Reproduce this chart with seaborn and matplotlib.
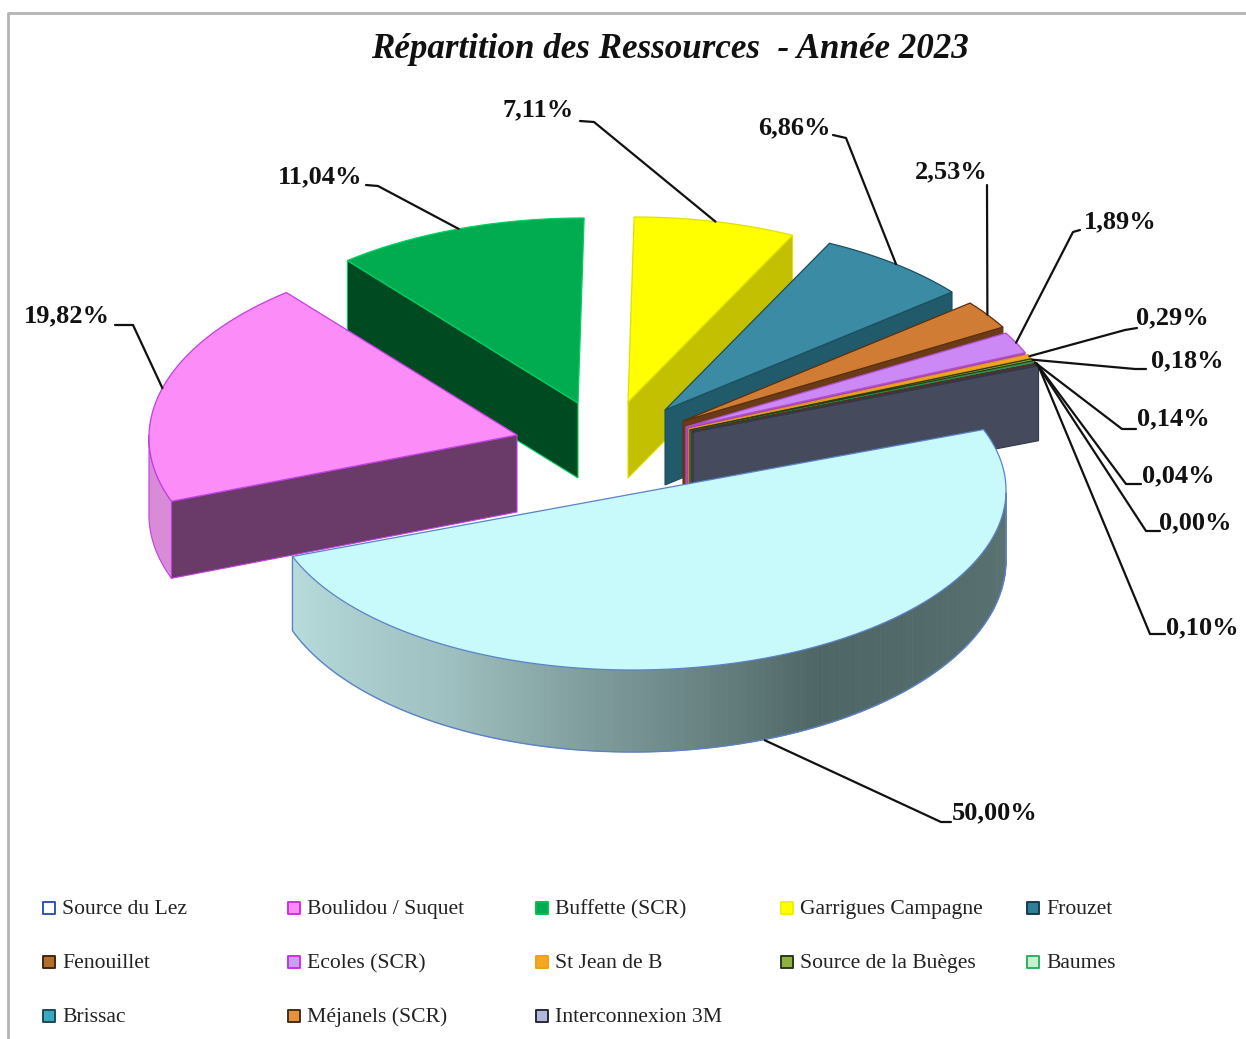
import numpy as np
import pandas as pd
import matplotlib.pyplot as plt
import matplotlib.colors as mcolors
import seaborn as sns

names = ["Source du Lez", "Boulidou / Suquet", "Buffette (SCR)", "Garrigues Campagne", "Frouzet",
         "Fenouillet", "Ecoles (SCR)", "St Jean de B", "Source de la Buèges", "Baumes",
         "Brissac", "Méjanels (SCR)", "Interconnexion 3M"]
values = [50.00, 19.82, 11.04, 7.11, 6.86, 2.53, 1.89, 0.29, 0.18, 0.14, 0.04, 0.00, 0.10]
labels = ["50,00%", "19,82%", "11,04%", "7,11%", "6,86%", "2,53%", "1,89%",
          "0,29%", "0,18%", "0,14%", "0,04%", "0,00%", "0,10%"]

top_colors = ["#c8f9fb", "#fb8cf8", "#00ac4f", "#ffff00", "#3b8ba5", "#d07c35", "#cc88f5",
              "#f5a623", "#90b040", "#4fa868", "#3aa0b8", "#e08a3c", "#5a6078"]
wall_colors = ["#567070", "#6a3a68", "#004a22", "#c2c000", "#215a6b", "#6b3b17", "#b040a8",
               "#8f5b12", "#1f4a20", "#1f5a30", "#1f5a6b", "#6b3b17", "#454a5c"]
edge_colors = ["#5b82c8", "#c040e0", "#00d060", "#e0e000", "#1b4f60", "#5a3010", "#b050d0",
               "#e09a20", "#2a3a10", "#2f8a50", "#1b4f60", "#5a3010", "#33384a"]
swatch_fill = ["#ffffff", "#fb8cf8", "#00ac4f", "#ffff00", "#2f7f98", "#b0702c", "#c8a0f0",
               "#f5a623", "#90b040", "#c8f0d0", "#3aa8c0", "#e8903c", "#b0b8e0"]
swatch_edge = ["#2f55b8", "#d030e0", "#00c050", "#f0f000", "#1a3a48", "#402810", "#d030e0",
               "#f0a010", "#2a3a20", "#30b060", "#1a4a58", "#403020", "#2a2a38"]

# layout of the drawing, in image pixels
CX, CY = 640, 493
A = 368
B = [177] + [185] * 12
SHEAR = 5.5
START = 21
offsets = [(-2, 0), (-123, -58), (-62, -90), (-12, -91), (25, -83), (43, -72), (46, -66),
           (49, -64), (50, -63), (51, -62), (52, -62), (52, -62), (53, -61)]
depths = [82, 77, 75, 76, 75, 75, 75, 75, 75, 75, 75, 75, 75]
draw_order = [2, 3, 4, 5, 6, 7, 8, 9, 10, 11, 12, 1, 0]

# label text position and the leader's elbow
label_pos = [(995, 813), (67, 316), (320, 177), (538, 110), (794, 128), (951, 172), (1120, 222),
             (1172, 318), (1187, 361), (1173, 419), (1178, 476), (1195, 523), (1202, 628)]
elbows = [[(951, 822), (941, 822)], [(115, 325), (133, 325)], [(366, 185), (378, 186)],
          [(580, 121), (594, 122)], [(833, 135), (846, 138)], [(987, 185)], [(1080, 230), (1073, 232)],
          [(1137, 328), (1125, 330)], [(1146, 369), (1135, 369)], [(1136, 429), (1122, 429)],
          [(1141, 484), (1126, 484)], [(1160, 531), (1146, 531)], [(1165, 634), (1150, 634)]]

legend_x = [44, 289, 537, 782, 1028]
legend_y = [908, 962, 1016]

sns.set_theme(style="white")
plt.rcParams["font.family"] = ["Liberation Serif", "DejaVu Serif"]

fig = plt.figure(figsize=(12.46, 10.39), dpi=100)
ax = fig.add_axes([0, 0, 1, 1])
ax.set_xlim(0, 1246)
ax.set_ylim(1039, 0)
ax.axis("off")

# outer frame of the original chart, cropped on the right and bottom
ax.plot([8, 8, 1246], [1039, 13, 13], color="#b4b4b4", lw=2)

spans = np.array(values) * 3.6
t_start = START - np.concatenate([[0], np.cumsum(spans)[:-1]])
t_end = t_start - spans


def arc(i, t0, t1, n=120):
    t = np.radians(np.linspace(t0, t1, n))
    x = CX + offsets[i][0] + A * np.cos(t) + SHEAR * np.sin(t)
    y = CY + offsets[i][1] - B[i] * np.sin(t)
    return x, y


def rim_depth(t):
    # the big slice looks thicker at the front than at its two ends
    return 70 + 12 * np.abs(np.sin(np.radians(t)))


def shade(t):
    # Source du Lez rim goes from pale on the left to dark towards the right
    stops = [(-159, "#b8dcdc"), (-120, "#9fc0c0"), (-60, "#4f6666"), (0, "#5a7272")]
    ts = [s[0] for s in stops]
    rgb = np.array([mcolors.to_rgb(s[1]) for s in stops])
    return [np.interp(t, ts, rgb[:, k]) for k in range(3)]


for i in draw_order:
    cx, cy = CX + offsets[i][0], CY + offsets[i][1]
    d = depths[i]
    t0, t1 = t_start[i], t_end[i]
    if i != 0:
        # radial wall that faces the viewer
        edge_t = t0 if i in (1, 2) else t1
        ex, ey = arc(i, edge_t, edge_t, 1)
        ax.fill([cx, ex[0], ex[0], cx], [cy, ey[0], ey[0] + d, cy + d],
                fc=wall_colors[i], ec=edge_colors[i], lw=0.8)
    # outer rim, only the part below the widest line can be seen
    if i == 0:
        ts = np.linspace(t1, 0, 160)
        for a0, a1 in zip(ts[:-1], ts[1:]):
            x, y = arc(i, a0, a1, 4)
            dd = rim_depth(np.linspace(a0, a1, 4))
            c = shade((a0 + a1) / 2)
            ax.fill(np.r_[x, x[::-1]], np.r_[y, (y + dd)[::-1]], fc=c, ec=c, lw=0.6)
        x, y = arc(i, t1, 0)
        dd = rim_depth(np.linspace(t1, 0, 120))
        ax.plot(np.r_[x[0], x, x[-1]], np.r_[y[0], y + dd, y[-1]], color=edge_colors[i], lw=1)
    if i == 1:
        x, y = arc(i, -180, t0)
        ax.fill(np.r_[x, x[::-1]], np.r_[y, y[::-1] + d], fc="#d98bd8", ec=edge_colors[i], lw=0.8)
    # top face
    x, y = arc(i, t0, t1)
    ax.fill(np.r_[cx, x], np.r_[cy, y], fc=top_colors[i], ec=edge_colors[i], lw=0.9)

# leaders and value labels
for i in range(len(values)):
    tm = (t_start[i] + t_end[i]) / 2
    x, y = arc(i, tm, tm, 1)
    py = y[0] + depths[i] if i == 0 else y[0]
    pts = elbows[i]
    xs = [p[0] for p in pts] + [x[0]]
    ys = [p[1] for p in pts] + [py]
    ax.plot(xs, ys, color="#111111", lw=1.6, solid_capstyle="round")
    ax.text(label_pos[i][0], label_pos[i][1], labels[i], fontsize=19, fontweight="bold",
            ha="center", va="center", color="#111111")

ax.text(670, 50, "Répartition des Ressources  - Année 2023", fontsize=25.2, fontweight="bold",
        fontstyle="italic", ha="center", va="center", color="#111111")

# legend, laid out in the same uneven grid as the original
leg = pd.DataFrame({
    "name": names,
    "x": [legend_x[i % 5] + 5 for i in range(len(names))],
    "y": [legend_y[i // 5] for i in range(len(names))],
})
sns.scatterplot(data=leg, x="x", y="y", hue="name", palette=swatch_fill, marker="s", s=75,
                edgecolor=swatch_edge, linewidth=1.4, legend=False, ax=ax)
ax.set_xlim(0, 1246)
ax.set_ylim(1039, 0)
for _, row in leg.iterrows():
    ax.text(row["x"] + 13, row["y"] + 6, row["name"], fontsize=15.6, ha="left", va="baseline",
            color="#222222")

fig.savefig("out.png", dpi=100)
